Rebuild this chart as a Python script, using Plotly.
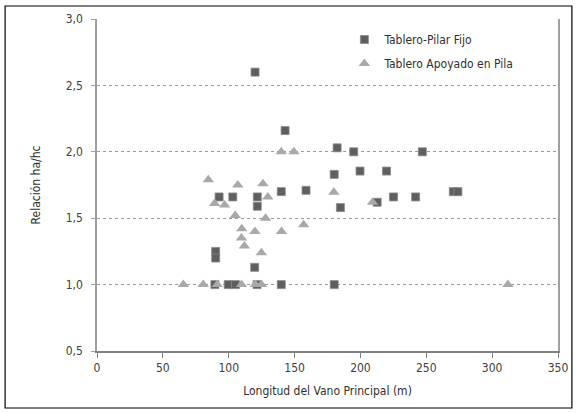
import plotly.graph_objects as go

# Tablero-Pilar Fijo (squares)
fijo_x = [120, 142.8, 182.3, 194.9, 247, 180.1, 199.7, 219.8, 139.9, 158.7,
          92.7, 103.1, 121.7, 121.7, 184.8, 212.7, 225.1, 241.9, 270.5, 274,
          90.1, 90.1, 119.7, 89.5, 99.6, 105.1, 121.5, 139.9, 180.1]
fijo_y = [2.6, 2.16, 2.03, 2.0, 2.0, 1.83, 1.855, 1.855, 1.70, 1.71,
          1.66, 1.66, 1.66, 1.59, 1.58, 1.62, 1.66, 1.66, 1.70, 1.70,
          1.25, 1.20, 1.13, 1.0, 1.0, 1.0, 1.0, 1.0, 1.0]

# Tablero Apoyado en Pila (triangles)
apoyo_x = [84.5, 106.9, 126, 129.7, 89.3, 96.9, 104.9, 128, 109.9, 119.9,
           140.1, 109.7, 111.9, 124.8, 139.9, 149.5, 179.8, 209.2, 156.9,
           65.6, 80.7, 91.3, 109.7, 120.2, 124.8, 312]
apoyo_y = [1.79, 1.75, 1.76, 1.66, 1.61, 1.60, 1.52, 1.50, 1.42, 1.40,
           1.40, 1.35, 1.29, 1.24, 2.0, 2.0, 1.695, 1.62, 1.45,
           1.0, 1.0, 1.0, 1.0, 1.0, 1.0, 1.0]

x_ticks = [0, 50, 100, 150, 200, 250, 300, 350]
y_ticks = [0.5, 1.0, 1.5, 2.0, 2.5, 3.0]
y_ticktext = ["0,5", "1,0", "1,5", "2,0", "2,5", "3,0"]

FONT = "Liberation Sans Narrow, DejaVu Sans Condensed, Arial Narrow, sans-serif"

fig = go.Figure()
fig.add_trace(go.Scatter(
    x=fijo_x, y=fijo_y, mode="markers", name="Tablero-Pilar Fijo",
    legendgroup="a",
    marker=dict(symbol="square", size=8, color="#5f5f5f",
                line=dict(color="#8a8a8a", width=0.8)),
))
fig.add_trace(go.Scatter(
    x=apoyo_x, y=apoyo_y, mode="markers", name="Tablero Apoyado en Pila",
    legendgroup="b",
    marker=dict(symbol="triangle-up", size=10, color="#a9a9a9",
                line=dict(width=0)),
))

W, H = 580, 413
L, R, T, B = 97, 19, 19, 62
pw, ph = W - L - R, H - T - B

def px_x(p):
    return (p - L) / pw

def px_y(p):
    return (H - B - p) / ph

fig.add_shape(type="rect", xref="paper", yref="paper",
              x0=px_x(4.5), x1=px_x(575), y0=px_y(408), y1=px_y(6),
              line=dict(color="#000000", width=1.2), fillcolor="rgba(0,0,0,0)",
              layer="below")

fig.update_layout(
    width=W, height=H,
    margin=dict(l=L, r=R, t=T, b=B),
    paper_bgcolor="white", plot_bgcolor="white",
    font=dict(family=FONT, size=12, color="#404040"),
    showlegend=True,
    legend=dict(x=px_x(346), y=px_y(25), xanchor="left", yanchor="top",
                bgcolor="rgba(0,0,0,0)", font=dict(size=12, color="#303030"),
                itemsizing="trace", itemwidth=30, tracegroupgap=5),
    xaxis=dict(
        range=[0, 350], tickvals=x_ticks, ticktext=[str(v) for v in x_ticks],
        showgrid=False, zeroline=False,
        showline=True, linecolor="#808080", linewidth=2,
        ticks="outside", ticklen=5, tickcolor="#808080", tickwidth=1,
        tickfont=dict(size=12, color="#404040"),
        title=dict(text="Longitud del Vano Principal (m)", font=dict(size=12, color="#303030"), standoff=12),
    ),
    yaxis=dict(
        range=[0.5, 3.0], tickvals=y_ticks, ticktext=y_ticktext,
        showgrid=True, gridcolor="#9a9a9a", griddash="dot", gridwidth=1,
        zeroline=False,
        showline=True, linecolor="#a0a0a0", linewidth=1.5, mirror=True,
        ticks="outside", ticklen=4, tickcolor="#a0a0a0",
        ticklabelstandoff=6,
        tickfont=dict(size=12, color="#404040"),
        title=dict(text="Relación ha/hc", font=dict(size=12, color="#303030"), standoff=22),
    ),
)

fig.write_html("out.html", config={"displayModeBar": False},
               post_script="document.body.style.margin='0';")
